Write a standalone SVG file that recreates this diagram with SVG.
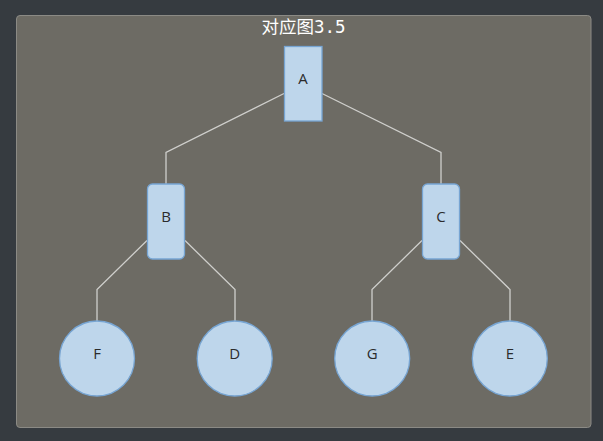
<svg xmlns="http://www.w3.org/2000/svg" width="603" height="441" viewBox="0 0 603 441">
<style>
.node{fill:#bed6eb;stroke:#77a5d3;stroke-width:1.3}
.lbl{font-family:"Open Sans","Noto Sans",sans-serif;font-size:15px;fill:#2b2b2b;text-anchor:middle}
.edge{fill:none;stroke:#cfcfcc;stroke-width:1.3}
</style>
<rect width="603" height="441" fill="#363b40"/>
<rect x="16.5" y="15.5" width="574.5" height="412" rx="3.5" fill="#6d6b64" stroke="#8b8a85" stroke-width="1"/>
<text x="303.5" y="33" font-family="'DejaVu Sans Mono','Noto Sans CJK SC',monospace" font-size="17.5" fill="#ffffff" text-anchor="middle">对应图3.5</text>
<g id="connectors">
<polyline class="edge" points="284,93.5 166,152.5 166,184"/>
<polyline class="edge" points="322,93.5 441,152.5 441,184"/>
<polyline class="edge" points="147,240.5 97,289.5 97,321"/>
<polyline class="edge" points="185,240.5 235,289.5 235,321"/>
<polyline class="edge" points="422,240.5 372,289.5 372,321"/>
<polyline class="edge" points="460,240.5 510,289.5 510,321"/>
</g>
<g id="node-A"><rect class="node" x="284.5" y="46.5" width="37.5" height="74.5"/><text class="lbl" x="303" y="84">A</text></g>
<g id="node-B"><rect class="node" x="147.5" y="184" width="37" height="75" rx="5"/><text class="lbl" x="166" y="222">B</text></g>
<g id="node-C"><rect class="node" x="422.5" y="184" width="37" height="75" rx="5"/><text class="lbl" x="441" y="222">C</text></g>
<g id="node-F"><circle class="node" cx="97" cy="358.5" r="37.5"/><text class="lbl" x="97" y="359">F</text></g>
<g id="node-D"><circle class="node" cx="234.7" cy="358.5" r="37.5"/><text class="lbl" x="234.7" y="359">D</text></g>
<g id="node-G"><circle class="node" cx="372.2" cy="358.5" r="37.5"/><text class="lbl" x="372.2" y="359">G</text></g>
<g id="node-E"><circle class="node" cx="509.8" cy="358.5" r="37.5"/><text class="lbl" x="509.8" y="359">E</text></g>
</svg>
